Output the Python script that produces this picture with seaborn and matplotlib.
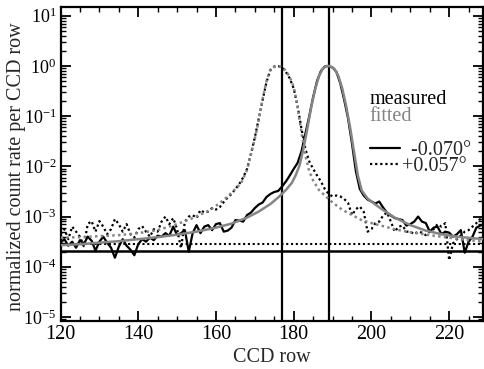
import numpy as np
import pandas as pd
import matplotlib
matplotlib.use("Agg")
import matplotlib.pyplot as plt
from matplotlib.lines import Line2D
from matplotlib.ticker import MultipleLocator, LogLocator, NullFormatter
import seaborn as sns

# ---------------- data ----------------
ccd_rows = list(range(120, 230))

# measured, -0.070 deg  (log10 of normalized count rate)
measured_neg_log = [
    -3.52, -3.45, -3.58, -3.50, -3.62, -3.47, -3.55, -3.40, -3.48, -3.68,
    -3.50, -3.40, -3.52, -3.62, -3.82, -3.60, -3.45, -3.58, -3.66, -3.77,
    -3.55, -3.45, -3.50, -3.42, -3.47, -3.38, -3.40, -3.33, -3.38, -3.20,
    -3.37, -3.33, -3.27, -3.70, -3.33, -3.17, -3.33, -3.20, -3.17, -3.27,
    -3.15, -3.13, -3.30, -3.28, -3.22, -3.07, -3.08, -3.10, -2.97, -2.92,
    -2.83, -2.76, -2.72, -2.61, -2.55, -2.51, -2.49, -2.40, -2.30, -2.18,
    -2.05, -1.93, -1.70, -1.35, -1.00, -0.62, -0.30, -0.10, -0.01, 0.00,
    -0.03, -0.12, -0.35, -0.68, -1.05, -1.55, -2.10, -2.45, -2.58, -2.66,
    -2.70, -2.74, -2.70, -2.82, -2.92, -2.98, -3.03, -3.05, -3.07, -3.18,
    -3.15, -3.10, -3.00, -3.10, -3.13, -3.30, -3.22, -3.20, -3.35, -3.30,
    -3.32, -3.40, -3.35, -3.27, -3.72, -3.50, -3.40, -3.22, -3.18, -3.15,
]

# measured, +0.057 deg
measured_pos_log = [
    -3.35, -3.25, -3.45, -3.20, -3.30, -3.40, -3.59, -3.15, -3.09, -3.30,
    -3.09, -3.20, -3.35, -3.25, -3.05, -3.15, -3.30, -3.15, -3.35, -3.42,
    -3.25, -3.19, -3.30, -3.40, -3.25, -3.30, -3.10, -3.00, -3.15, -3.03,
    -3.25, -3.63, -3.10, -3.00, -2.97, -3.03, -2.87, -2.92, -2.90, -2.83,
    -2.86, -2.81, -2.71, -2.62, -2.55, -2.45, -2.35, -2.22, -2.05, -1.75,
    -1.42, -1.05, -0.68, -0.32, -0.08, -0.01, 0.00, -0.03, -0.12, -0.25,
    -0.45, -0.80, -1.25, -1.65, -1.90, -2.05, -2.18, -2.30, -2.45, -2.55,
    -2.60, -2.58, -2.60, -2.65, -2.73, -2.97, -2.85, -2.80, -2.90, -3.30,
    -3.25, -3.13, -3.10, -2.98, -2.92, -3.10, -3.30, -3.20, -3.18, -3.30,
    -3.30, -3.35, -3.30, -3.32, -3.37, -3.30, -3.25, -3.15, -3.20, -3.13,
    -3.87, -3.53, -3.45, -3.38, -3.30, -3.27, -3.20, -3.13, -3.05, -3.00,
]

# fitted, -0.070 deg
fit_neg_x = [120, 125, 130, 135, 140, 145, 150, 155, 160, 164, 168, 171, 174,
             176, 178, 179.5, 180.5, 181.5, 182.5, 183.5, 184.5, 185.5, 186.5,
             187.5, 188.5, 189, 189.5, 190.5, 191.5, 192.5, 193.5, 194.5,
             195.5, 196.5, 197.5, 199, 201, 203, 206, 210, 214, 218, 222,
             226, 229]
fit_neg_log = [-3.57, -3.55, -3.52, -3.49, -3.45, -3.41, -3.36, -3.30, -3.22,
               -3.14, -3.02, -2.90, -2.75, -2.62, -2.47, -2.33, -2.18, -1.98,
               -1.65, -1.25, -0.82, -0.47, -0.20, -0.05, 0.00, 0.00, -0.01,
               -0.06, -0.20, -0.45, -0.80, -1.22, -1.70, -2.18, -2.48, -2.64,
               -2.76, -2.87, -3.02, -3.17, -3.28, -3.35, -3.40, -3.43, -3.45]

# fitted, +0.057 deg
fit_pos_x = [120, 125, 130, 135, 140, 145, 150, 154, 158.5, 161, 163, 165,
             166.5, 168, 169, 170, 171, 172, 173, 174, 175, 176, 177, 178,
             179, 180, 181, 182, 183, 184, 185, 186.5, 188.7, 190, 192.6,
             197.7, 202, 206.4, 210, 215, 220, 224, 229]
fit_pos_log = [-3.42, -3.41, -3.39, -3.37, -3.33, -3.27, -3.15, -3.03, -2.87,
               -2.73, -2.60, -2.45, -2.33, -2.07, -1.75, -1.45, -1.08, -0.66,
               -0.30, -0.07, -0.02, 0.00, -0.02, -0.10, -0.22, -0.42, -0.82,
               -1.33, -1.78, -2.10, -2.28, -2.47, -2.63, -2.72, -2.87, -3.08,
               -3.17, -3.26, -3.31, -3.37, -3.42, -3.46, -3.50]

peak_rows = [177, 189]               # vertical marker lines
background_levels = [2.05e-4, 2.8e-4]  # solid, dotted horizontal lines

legend_labels = [" \u2009-0.070°", "+0.057°"]

# ---------------- style ----------------
sns.set_style("ticks")
plt.rcParams["font.family"] = ["Liberation Serif", "DejaVu Serif"]
plt.rcParams["mathtext.fontset"] = "custom"
plt.rcParams["mathtext.rm"] = "Liberation Serif"
plt.rcParams["mathtext.default"] = "regular"
FS = 14.5
GRAY = "#858585"

fig = plt.figure(figsize=(4.84, 3.69), dpi=100)
ax = fig.add_axes([60.5 / 484, 1 - 321 / 369, (483 - 60.5) / 484, (321 - 7) / 369])

df_neg = pd.DataFrame({"row": ccd_rows, "rate": np.power(10.0, measured_neg_log)})
df_pos = pd.DataFrame({"row": ccd_rows, "rate": np.power(10.0, measured_pos_log)})
df_fit_neg = pd.DataFrame({"row": fit_neg_x, "rate": np.power(10.0, fit_neg_log)})
df_fit_pos = pd.DataFrame({"row": fit_pos_x, "rate": np.power(10.0, fit_pos_log)})

DOT = (0, (1, 1.3))

# reference lines
for r in peak_rows:
    ax.axvline(r, color="black", lw=1.6, zorder=1)
ax.axhline(background_levels[0], color="black", lw=1.8, zorder=1)
ax.axhline(background_levels[1], color="black", lw=1.5, ls=DOT, zorder=1)

# measured
sns.lineplot(data=df_neg, x="row", y="rate", ax=ax, color="black", lw=1.6,
             estimator=None, zorder=2)
sns.lineplot(data=df_pos, x="row", y="rate", ax=ax, color="black", lw=1.6,
             linestyle=DOT, estimator=None, zorder=2)
# fitted
sns.lineplot(data=df_fit_neg, x="row", y="rate", ax=ax, color=GRAY, lw=1.8,
             estimator=None, zorder=3)
sns.lineplot(data=df_fit_pos, x="row", y="rate", ax=ax, color=GRAY, lw=1.8,
             linestyle=DOT, estimator=None, zorder=3)

ax.set_yscale("log")
ax.set_xlim(120, 228.7)
ax.set_ylim(10 ** -5.08, 10 ** 1.175)

ax.xaxis.set_major_locator(MultipleLocator(20))
ax.xaxis.set_minor_locator(MultipleLocator(5))
ax.yaxis.set_major_locator(LogLocator(base=10, numticks=20))
ax.yaxis.set_minor_locator(LogLocator(base=10, subs=np.arange(2, 10), numticks=20))
ax.yaxis.set_minor_formatter(NullFormatter())

ax.tick_params(which="both", direction="in", top=True, right=True,
               labelsize=FS, colors="black")
ax.tick_params(axis="y", which="major", labelsize=13.0)
ax.tick_params(which="major", length=7, width=1.3, pad=3)
ax.tick_params(which="minor", length=3.5, width=1.0)
for s in ax.spines.values():
    s.set_linewidth(1.6)
    s.set_color("black")

ax.set_xlabel("CCD row", fontsize=FS, labelpad=3)
ax.set_ylabel("normalized count rate per CCD row", fontsize=FS)
ax.yaxis.set_label_coords(-0.082, 0.49)

# legend-like annotation
ax.text(0.732, 0.704, "measured", transform=ax.transAxes, fontsize=FS,
        color="black", va="center", ha="left")
ax.text(0.732, 0.650, "fitted", transform=ax.transAxes, fontsize=FS,
        color=GRAY, va="center", ha="left")
handles = [Line2D([], [], color="black", lw=1.6),
           Line2D([], [], color="black", lw=1.6, ls=DOT)]
leg = ax.legend(handles, legend_labels, loc="upper left",
                bbox_to_anchor=(0.732, 0.572), frameon=False, fontsize=FS,
                handlelength=1.5, handletextpad=0.08, labelspacing=-0.2,
                borderpad=0, borderaxespad=0)

fig.savefig("out.png", dpi=100)
